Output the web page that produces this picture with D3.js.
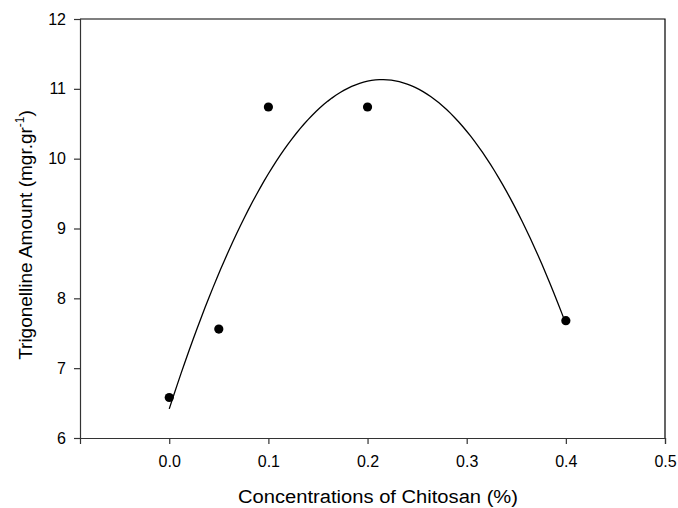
<!DOCTYPE html>
<html lang="en">

<head>
    <meta charset="UTF-8">
    <title>Trigonelline vs Chitosan</title>
    <style>
        body {
            margin: 0;
            background: #fff;
            overflow: hidden;
        }

        text {
            font-family: "Liberation Sans", Arial, sans-serif;
            fill: #000;
        }
    </style>
</head>

<body>
    <div id="container"></div>

    <script type="text/javascript" src="https://d3js.org/d3.v7.min.js"></script>
    <script type="text/javascript">
        // Values.
        var concentrations = [0, 0.05, 0.1, 0.2, 0.4];
        var trigonelline = [6.58, 7.56, 10.74, 10.74, 7.68];
        var xTicks = [0, 0.1, 0.2, 0.3, 0.4, 0.5];
        var yTicks = [6, 7, 8, 9, 10, 11, 12];

        var width = 678,
            height = 508;

        var svgCanvas = d3.select("#container")
            .append("svg")
            .attr("width", width)
            .attr("height", height);

        var x = d3.scaleLinear().domain([-0.09, 0.5]).range([80, 665]);
        var y = d3.scaleLinear().domain([6, 12]).range([438, 19]);

        // Frame on top and right.
        svgCanvas.append("path")
            .attr("d", "M" + x(-0.09) + "," + y(12) + "H" + x(0.5) + "V" + y(6))
            .attr("fill", "none")
            .attr("stroke", "#000")
            .attr("stroke-width", 1.2);

        // Left axis.
        svgCanvas.append("g")
            .attr("transform", "translate(" + x(-0.09) + ",0)")
            .call(d3.axisLeft(y).tickValues(yTicks).tickSize(6).tickPadding(8).tickFormat(d3.format("d")));

        // Bottom axis.
        svgCanvas.append("g")
            .attr("transform", "translate(0," + y(6) + ")")
            .call(d3.axisBottom(x).tickValues(xTicks).tickSize(6).tickPadding(12).tickFormat(d3.format(".1f")));

        svgCanvas.selectAll(".domain, .tick line")
            .attr("stroke", "#333")
            .attr("stroke-width", 1.2);
        svgCanvas.selectAll(".tick text")
            .style("font-family", "'Liberation Sans', Arial, sans-serif")
            .style("font-size", "16px")
            .attr("fill", "#000");

        // Quadratic least squares fit through the points (second order polynomial).
        function quadFit(xs, ys) {
            var n = xs.length, s = [0, 0, 0, 0, 0], t = [0, 0, 0];
            for (var i = 0; i < n; i++) {
                for (var k = 0; k < 5; k++) s[k] += Math.pow(xs[i], k);
                for (var k = 0; k < 3; k++) t[k] += ys[i] * Math.pow(xs[i], k);
            }
            var m = [
                [s[0], s[1], s[2], t[0]],
                [s[1], s[2], s[3], t[1]],
                [s[2], s[3], s[4], t[2]]
            ];
            // Gaussian elimination.
            for (var c = 0; c < 3; c++) {
                for (var r = c + 1; r < 3; r++) {
                    var f = m[r][c] / m[c][c];
                    for (var k = c; k < 4; k++) m[r][k] -= f * m[c][k];
                }
            }
            var coef = [0, 0, 0];
            for (var r = 2; r >= 0; r--) {
                var v = m[r][3];
                for (var k = r + 1; k < 3; k++) v -= m[r][k] * coef[k];
                coef[r] = v / m[r][r];
            }
            return coef;
        }

        var coef = quadFit(concentrations, trigonelline);
        var fitX = d3.range(0, 0.4001, 0.004);

        var line = d3.line()
            .x(function (d) { return x(d); })
            .y(function (d) { return y(coef[0] + coef[1] * d + coef[2] * d * d); });

        svgCanvas.append("path")
            .datum(fitX)
            .attr("d", line)
            .attr("fill", "none")
            .attr("stroke", "#000")
            .attr("stroke-width", 1.3);

        // Data points.
        svgCanvas.selectAll("circle.pt")
            .data(concentrations)
            .enter()
            .append("circle")
            .attr("class", "pt")
            .attr("cx", function (d) { return x(d); })
            .attr("cy", function (d, i) { return y(trigonelline[i]); })
            .attr("r", 4.6)
            .attr("fill", "#000");

        // Axis titles.
        svgCanvas.append("text")
            .attr("x", 378)
            .attr("y", 503)
            .attr("text-anchor", "middle")
            .attr("textLength", 280)
            .attr("lengthAdjust", "spacingAndGlyphs")
            .style("font-size", "18px")
            .text("Concentrations of Chitosan (%)");

        var yLabel = svgCanvas.append("text")
            .attr("transform", "translate(32,235) rotate(-90)")
            .attr("text-anchor", "middle")
            .style("font-size", "19px");
        yLabel.append("tspan").text("Trigonelline Amount (mgr.gr");
        yLabel.append("tspan").attr("dy", -8).style("font-size", "12px").text("-1");
        yLabel.append("tspan").attr("dy", 8).text(")");
    </script>
</body>

</html>
